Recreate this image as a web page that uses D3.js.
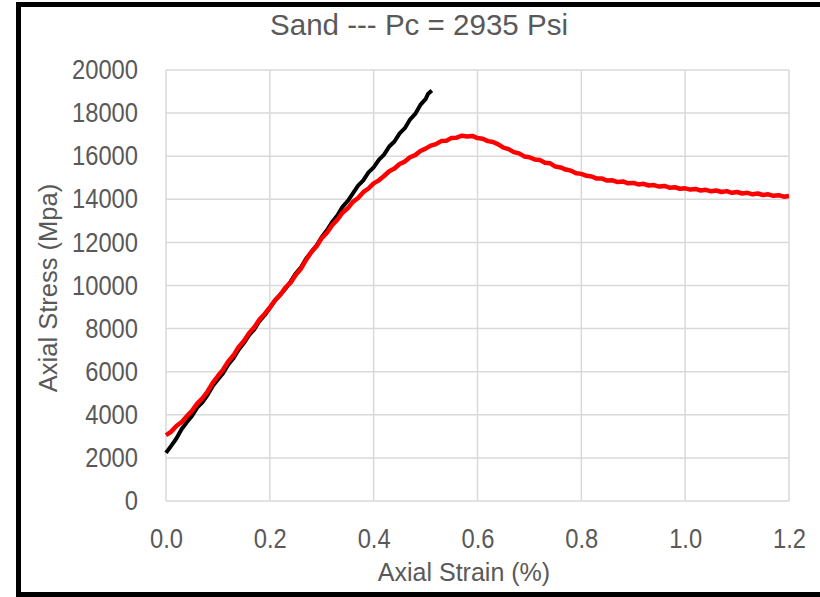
<!DOCTYPE html>
<html>
<head>
<meta charset="utf-8">
<script src="https://cdn.jsdelivr.net/npm/d3@7"></script>
<style>
  body { margin: 0; background: #fff; }
  svg { display: block; }
  text { font-family: "Liberation Sans", Arial, sans-serif; fill: #595959; }
</style>
</head>
<body>
<svg width="820" height="597"></svg>
<script>
// tick values
var xTicks = [0, 0.2, 0.4, 0.6, 0.8, 1.0, 1.2];
var yTicks = [0, 2000, 4000, 6000, 8000, 10000, 12000, 14000, 16000, 18000, 20000];

// black series (elastic line), strain % / stress
var blackStrain = [0, 0.01, 0.02, 0.03, 0.04, 0.05, 0.06, 0.07, 0.08, 0.09, 0.10, 0.11, 0.12, 0.13, 0.14,
  0.15, 0.16, 0.17, 0.18, 0.19, 0.20, 0.21, 0.22, 0.23, 0.24, 0.25, 0.26, 0.27, 0.28, 0.29,
  0.30, 0.31, 0.32, 0.33, 0.34, 0.35, 0.36, 0.37, 0.38, 0.39, 0.40, 0.41, 0.42, 0.43, 0.44,
  0.45, 0.46, 0.47, 0.48, 0.49, 0.50, 0.505, 0.512];
var blackStress = [2230, 2560, 2900, 3330, 3650, 3950, 4330, 4580, 4920, 5330, 5640, 5930, 6330, 6620, 7020,
  7330, 7700, 7960, 8350, 8620, 8950, 9310, 9580, 9850, 10180, 10560, 10850, 11250, 11560, 11850,
  12250, 12560, 12950, 13250, 13650, 13920, 14280, 14630, 14880, 15250, 15480, 15830, 16070, 16450, 16680,
  17060, 17300, 17700, 17960, 18380, 18650, 18900, 19050];

// red series (test curve)
var redStrain = [0, 0.01, 0.02, 0.03, 0.04, 0.05, 0.06, 0.07, 0.08, 0.09, 0.10, 0.11, 0.12, 0.13, 0.14,
  0.15, 0.16, 0.17, 0.18, 0.19, 0.20, 0.21, 0.22, 0.23, 0.24, 0.25, 0.26, 0.27, 0.28, 0.29,
  0.30, 0.31, 0.32, 0.33, 0.34, 0.35, 0.36, 0.37, 0.38, 0.39, 0.40, 0.41, 0.42, 0.43, 0.44,
  0.45, 0.46, 0.47, 0.48, 0.49, 0.50, 0.51, 0.52, 0.53, 0.54, 0.55, 0.56, 0.57, 0.58, 0.59,
  0.60, 0.61, 0.62, 0.63, 0.64, 0.65, 0.66, 0.67, 0.68, 0.69, 0.70, 0.71, 0.72, 0.73, 0.74,
  0.75, 0.76, 0.77, 0.78, 0.79, 0.80, 0.81, 0.82, 0.83, 0.84, 0.85, 0.86, 0.87, 0.88, 0.89,
  0.90, 0.91, 0.92, 0.93, 0.94, 0.95, 0.96, 0.97, 0.98, 0.99, 1.00, 1.01, 1.02, 1.03, 1.04,
  1.05, 1.06, 1.07, 1.08, 1.09, 1.10, 1.11, 1.12, 1.13, 1.14, 1.15, 1.16, 1.17, 1.18, 1.19, 1.20];
var redStress = [3050, 3220, 3480, 3660, 3930, 4180, 4520, 4760, 5080, 5480, 5800, 6100, 6480, 6760, 7150,
  7420, 7790, 8060, 8420, 8680, 8980, 9310, 9560, 9900, 10130, 10500, 10780, 11200, 11550, 11820,
  12200, 12450, 12800, 13050, 13380, 13580, 13880, 14060, 14330, 14500, 14740, 14880, 15080, 15300, 15430,
  15640, 15750, 15950, 16050, 16240, 16350, 16490, 16560, 16700, 16720, 16850, 16860, 16950, 16910, 16940,
  16840, 16810, 16700, 16660, 16550, 16400, 16330, 16190, 16130, 15990, 15950, 15850, 15820, 15700, 15670,
  15520, 15480, 15380, 15330, 15210, 15180, 15090, 15060, 14960, 14960, 14870, 14880, 14800, 14830, 14740,
  14760, 14690, 14720, 14640, 14660, 14590, 14620, 14540, 14560, 14490, 14510, 14450, 14480, 14410, 14440,
  14370, 14410, 14340, 14380, 14300, 14340, 14270, 14300, 14230, 14270, 14200, 14230, 14160, 14190, 14120, 14150];

var svg = d3.select('svg');

// outer frame
svg.append('rect')
  .attr('x', 18.5).attr('y', 4.5)
  .attr('width', 820).attr('height', 590)
  .attr('fill', 'none').attr('stroke', '#000').attr('stroke-width', 5);

var xs = d3.scaleLinear().domain([0, 1.2]).range([166, 789]);
var ys = d3.scaleLinear().domain([0, 20000]).range([501, 70]);

// gridlines
svg.append('g')
  .selectAll('line')
  .data(yTicks)
  .enter()
  .append('line')
  .attr('x1', 166).attr('x2', 789)
  .attr('y1', function(d) { return ys(d); })
  .attr('y2', function(d) { return ys(d); })
  .attr('stroke', '#d9d9d9').attr('stroke-width', 1.5);

svg.append('g')
  .selectAll('line')
  .data(xTicks)
  .enter()
  .append('line')
  .attr('y1', 70).attr('y2', 501)
  .attr('x1', function(d) { return xs(d); })
  .attr('x2', function(d) { return xs(d); })
  .attr('stroke', '#d9d9d9').attr('stroke-width', 1.5);

// axes (labels only)
var gy = svg.append('g')
  .attr('transform', 'translate(166,0)')
  .call(d3.axisLeft(ys).tickValues(yTicks).tickSize(0).tickPadding(28).tickFormat(d3.format('d')));
var gx = svg.append('g')
  .attr('transform', 'translate(0,501)')
  .call(d3.axisBottom(xs).tickValues(xTicks).tickSize(0).tickPadding(28).tickFormat(d3.format('.1f')));

[gx, gy].forEach(function(g) {
  g.select('.domain').remove();
  g.selectAll('text')
    .style('font-size', '27px')
    .attr('fill', '#595959')
    .attr('lengthAdjust', 'spacingAndGlyphs')
    .attr('textLength', function() {
      var s = d3.select(this).text();
      return s.replace('.', '').length * 13.2 + (s.indexOf('.') >= 0 ? 6.6 : 0);
    });
});

var line = d3.line()
  .x(function(d) { return xs(d[0]); })
  .y(function(d) { return ys(d[1]); });

var blackData = blackStrain.map(function(s, i) { return [s, blackStress[i]]; });
var redData = redStrain.map(function(s, i) { return [s, redStress[i]]; });

svg.append('path')
  .datum(blackData)
  .attr('d', line)
  .attr('fill', 'none').attr('stroke', '#000').attr('stroke-width', 4)
  .attr('stroke-linejoin', 'round');

svg.append('path')
  .datum(redData)
  .attr('d', line)
  .attr('fill', 'none').attr('stroke', '#ff0000').attr('stroke-width', 4.5)
  .attr('stroke-linejoin', 'round');

// titles
svg.append('text')
  .attr('x', 419).attr('y', 35)
  .attr('text-anchor', 'middle')
  .style('font-size', '30px')
  .attr('lengthAdjust', 'spacingAndGlyphs')
  .attr('textLength', 298)
  .text('Sand --- Pc = 2935 Psi');

svg.append('text')
  .attr('x', 464).attr('y', 581)
  .attr('text-anchor', 'middle')
  .style('font-size', '25px')
  .text('Axial Strain (%)');

svg.append('text')
  .attr('transform', 'translate(57,288) rotate(-90)')
  .attr('text-anchor', 'middle')
  .style('font-size', '25.5px')
  .text('Axial Stress (Mpa)');
</script>
</body>
</html>
